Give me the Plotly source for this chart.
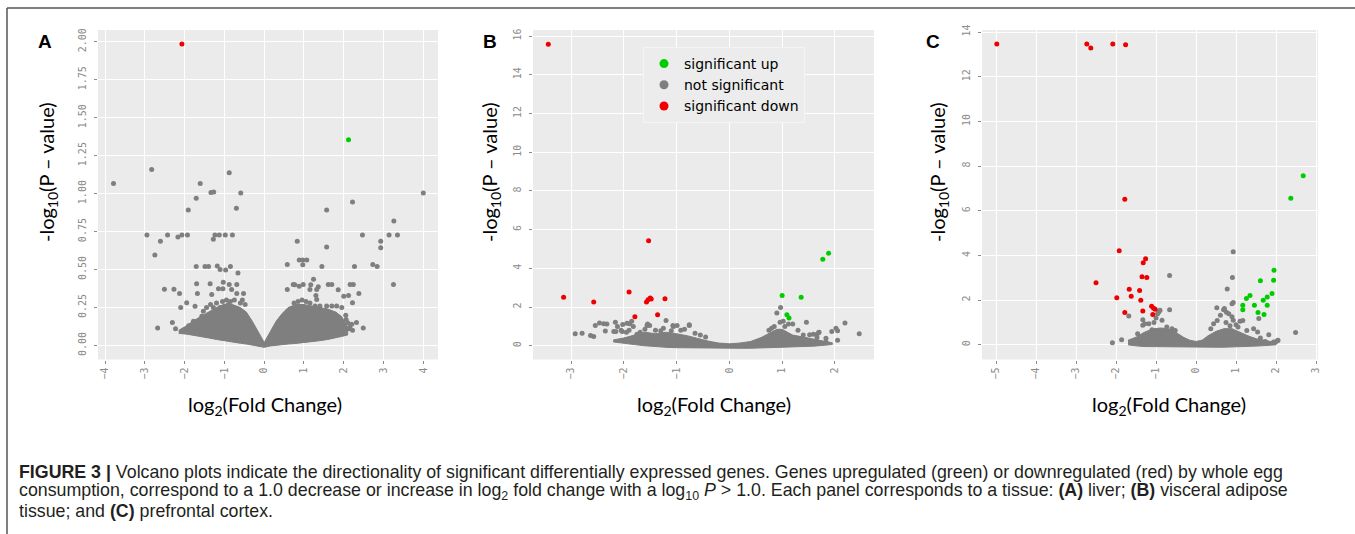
import plotly.graph_objects as go

W, H = 1355, 534

# ---------------- panel A (liver) ----------------
a_red_x = [-2.07]
a_red_y = [1.985]
a_green_x = [2.12]
a_green_y = [1.354]
a_gray_x = [-3.79, -2.83, -2.95, -2.75, -2.61, -2.43, -2.17, -2.07, -1.93, -1.91, -1.71, -1.61, -1.34, -1.27,
            -1.28, -1.24, -1.13, -0.98, -0.88, -0.80, -0.70, -0.59,
            -2.51, -2.27, -2.13, -2.10, -2.31, -2.23, -2.68, -1.95,
            -1.71, -1.49, -1.40, -1.18, -1.11, -0.97, -0.85, -0.66,
            -1.70, -1.36, -1.03, -0.88, -0.69, -1.04, -1.15, -0.82, -0.69, -0.52, -1.68, -1.32, -1.74, -1.45,
            -1.28, -1.11, -1.78, -1.78, -1.78, -1.78, -1.57, -1.53, -1.36, -1.62, -1.85, -1.90, -2.00,
            -1.20, -1.05, -0.95, -0.85, -0.75, -0.60, -0.55, -1.35, -0.48, -1.00, -0.90,
            0.83, 0.58, 0.88, 0.97, 1.07, 0.97, 1.24, 1.45, 1.57, 1.57, 2.22, 2.47, 2.27, 2.16, 2.24, 2.38,
            2.73, 2.84, 2.93, 2.93, 3.14, 3.26, 3.35, 3.25, 4.00, 2.49, 2.12, 2.22, 2.32, 2.22, 2.12, 2.00, 2.06,
            0.73, 0.98, 1.17, 1.36, 1.61, 1.70, 1.86, 1.15, 1.32, 0.77, 0.88, 0.58, 1.30, 1.32,
            1.57, 1.70, 1.40, 1.28, 1.82, 1.95, 0.85, 0.95, 1.05, 0.75, 1.15, 2.05, 2.10, 2.20, 2.15]
a_gray_y = [1.066, 1.158, 0.727, 0.596, 0.686, 0.727, 0.714, 0.727, 0.727, 0.892, 0.969, 1.066, 1.007, 1.011,
            0.699, 0.727, 0.727, 0.727, 1.138, 0.727, 0.903, 1.004,
            0.371, 0.371, 0.343, 0.251, 0.152, 0.110, 0.116, 0.281,
            0.521, 0.521, 0.521, 0.523, 0.500, 0.497, 0.521, 0.477,
            0.407, 0.407, 0.417, 0.402, 0.402, 0.374, 0.374, 0.369, 0.343, 0.343, 0.343, 0.336, 0.259, 0.250,
            0.250, 0.250, 0.160, 0.140, 0.120, 0.085, 0.193, 0.226, 0.180, 0.150, 0.110, 0.130, 0.105,
            0.280, 0.290, 0.300, 0.290, 0.300, 0.280, 0.300, 0.270, 0.270, 0.260, 0.270,
            0.686, 0.534, 0.563, 0.563, 0.563, 0.532, 0.437, 0.521, 0.892, 0.648, 0.945, 0.727, 0.521, 0.402,
            0.402, 0.343, 0.534, 0.521, 0.686, 0.644, 0.727, 0.820, 0.727, 0.402, 1.004, 0.116, 0.110, 0.100,
            0.152, 0.281, 0.330, 0.325, 0.171,
            0.402, 0.402, 0.400, 0.387, 0.402, 0.402, 0.367, 0.369, 0.369, 0.400, 0.390, 0.369, 0.330, 0.303,
            0.260, 0.260, 0.260, 0.260, 0.260, 0.250, 0.290, 0.300, 0.290, 0.280, 0.280, 0.200, 0.150, 0.140, 0.120]
# outline of the dense cloud of non-significant genes
a_core_x = [-2.15, -1.95, -1.8, -1.6, -1.4, -1.2, -1.0, -0.8, -0.6, -0.45, -0.3, -0.15, 0,
            0.15, 0.3, 0.45, 0.6, 0.8, 1.0, 1.2, 1.4, 1.6, 1.8, 1.95, 2.1]
a_core_top = [0.10, 0.13, 0.16, 0.19, 0.22, 0.25, 0.27, 0.27, 0.25, 0.22, 0.16, 0.09, 0.02,
              0.09, 0.16, 0.21, 0.25, 0.27, 0.27, 0.26, 0.25, 0.24, 0.22, 0.19, 0.12]
a_core_bottom = [0.08, 0.075, 0.07, 0.06, 0.05, 0.04, 0.03, 0.022, 0.015, 0.01, 0.004, -0.003, -0.012,
                 -0.003, 0.002, 0.006, 0.01, 0.014, 0.018, 0.025, 0.032, 0.04, 0.05, 0.06, 0.07]

# ---------------- panel B (visceral adipose) ----------------
b_red_x = [-3.43, -3.14, -2.57, -1.90, -1.53, -1.57, -1.54, -1.50, -1.48, -1.22, -1.79, -1.36]
b_red_y = [15.57, 2.50, 2.26, 2.78, 5.43, 2.26, 2.38, 2.47, 2.41, 2.43, 1.50, 1.60]
b_green_x = [1.00, 1.36, 1.77, 1.88, 1.09, 1.13]
b_green_y = [2.60, 2.50, 4.47, 4.78, 1.60, 1.43]
b_gray_x = [-2.92, -2.79, -2.63, -2.57, -2.54, -2.46, -2.38, -2.32, -2.35, -2.16, -2.12, -2.19, -2.02, -1.94,
            -1.89, -2.03, -1.95, -1.82, -1.85, -1.56, -1.51, -1.69, -1.20, -1.06, -0.99, -0.76, -1.10, -0.92,
            -1.40, -1.30, -1.55, -1.07, -0.76, -2.15, -2.05, -1.90, -1.75, -1.60, -1.25, -0.85, -0.65, -0.55, -0.45,
            0.97, 0.90, 1.46, 2.19, 2.46, 2.05, 1.94, 2.05, 1.69, 1.59, 1.52, 0.96, 1.02, 1.12, 1.20, 1.70,
            2.02, 1.83, 1.83, 1.66, 1.66, 0.85, 0.80, 0.75, 1.05, 1.30, 1.40]
b_gray_y = [0.62, 0.65, 0.53, 0.48, 1.05, 1.17, 1.14, 1.12, 0.76, 1.22, 0.99, 0.74, 1.10, 1.16,
            1.14, 0.73, 0.70, 0.99, 1.26, 1.05, 1.05, 0.70, 1.31, 1.00, 1.05, 1.05, 0.77, 0.80,
            0.80, 0.77, 1.12, 1.05, 1.09, 0.74, 0.80, 0.80, 0.60, 0.85, 0.90, 0.85, 0.65, 0.55, 0.45,
            1.98, 1.69, 1.22, 1.17, 0.62, 0.78, 0.74, 0.29, 0.69, 0.60, 0.57, 1.22, 1.26, 1.12, 1.12, 0.70,
            0.91, 0.39, 0.19, 0.60, 0.42, 1.00, 0.90, 0.80, 1.00, 0.80, 0.55]
b_core_x = [-2.2, -2.0, -1.8, -1.6, -1.4, -1.2, -1.0, -0.8, -0.6, -0.4, -0.2, 0, 0.2, 0.4, 0.6, 0.8,
            0.9, 1.0, 1.2, 1.4, 1.6, 1.8, 1.95]
b_core_top = [0.30, 0.40, 0.55, 0.70, 0.62, 0.70, 0.62, 0.52, 0.38, 0.24, 0.14, 0.10, 0.14, 0.22, 0.42, 0.70,
              0.85, 0.85, 0.55, 0.45, 0.35, 0.25, 0.15]
b_core_bottom = [0.20, 0.12, 0.06, 0.00, -0.05, -0.08, -0.10, -0.12, -0.13, -0.13, -0.13, -0.13, -0.13, -0.13,
                 -0.13, -0.12, -0.10, -0.08, -0.06, -0.04, -0.02, 0.02, 0.06]

# ---------------- panel C (prefrontal cortex) ----------------
c_red_x = [-4.98, -2.73, -2.63, -2.08, -1.76, -1.78, -1.92, -2.50, -1.98, -1.78, -1.67, -1.62, -1.41, -1.38,
           -1.35, -1.23, -1.32, -1.26, -1.33, -1.11, -1.06, -1.02, -1.08]
c_red_y = [13.46, 13.46, 13.28, 13.46, 13.43, 6.51, 4.21, 2.78, 2.10, 1.44, 2.49, 2.17, 2.43, 1.99,
           3.04, 3.01, 3.67, 3.85, 1.51, 1.72, 1.63, 1.59, 1.36]
c_green_x = [2.68, 2.37, 1.95, 1.94, 1.61, 1.90, 1.78, 1.68, 1.78, 1.35, 1.26, 1.17, 1.17, 1.46, 1.55, 1.70]
c_green_y = [7.56, 6.56, 3.34, 2.89, 2.87, 2.29, 2.14, 1.99, 1.77, 2.20, 2.07, 1.77, 1.57, 1.77, 1.44, 1.36]
c_gray_x = [0.93, 0.91, 0.78, 0.93, -0.66, -0.66, -1.68, -2.09, -1.86, 2.49, 1.57, 2.04, 1.99, 0.52, 0.69,
            -1.60, -1.52, -1.39, -1.31, -1.46, -1.41, -1.33, -1.18, -1.10, -0.96, -0.93, -0.90, -0.73, -0.60,
            -0.52, -1.33, -1.28, -1.00, -0.85, -1.05,
            0.71, 0.76, 0.82, 0.90, 0.90, 0.93, 0.61, 0.53, 0.44, 0.37, 1.10, 1.17,
            1.27, 1.44, 1.54, 1.61, 1.73, 1.82, 1.78, 1.94, 2.05, 1.30, 1.45, 1.00, 0.75, 0.85, 1.05]
c_gray_y = [4.16, 3.01, 2.50, 1.89, 3.10, 1.57, 1.29, 0.09, 0.22, 0.55, 1.17, 0.19, 0.12, 1.66, 1.57,
            0.08, 0.08, 0.08, 0.12, 0.49, 0.34, 0.87, 0.94, 0.67, 1.39, 1.47, 1.55, 0.79, 0.72,
            0.64, 1.12, 0.94, 1.20, 1.10, 1.00,
            1.62, 1.46, 1.39, 1.84, 1.25, 1.10, 1.32, 1.09, 0.94, 0.72, 1.05, 1.09,
            0.64, 0.72, 0.57, 0.30, 0.15, 0.45, 0.08, 0.12, 0.20, 0.15, 0.20, 0.90, 1.00, 0.85, 0.80]
c_core_x = [-1.7, -1.5, -1.3, -1.1, -0.9, -0.7, -0.5, -0.3, -0.15, 0, 0.15, 0.3, 0.5, 0.7, 0.9, 1.1, 1.3,
            1.5, 1.7, 1.9, 2.0]
c_core_top = [0.20, 0.34, 0.55, 0.70, 0.75, 0.72, 0.55, 0.32, 0.20, 0.15, 0.20, 0.40, 0.60, 0.72, 0.72, 0.55,
              0.40, 0.27, 0.20, 0.15, 0.10]
c_core_bottom = [0.00, -0.05, -0.08, -0.10, -0.10, -0.11, -0.11, -0.11, -0.11, -0.11, -0.11, -0.11, -0.11,
                 -0.11, -0.10, -0.10, -0.08, -0.06, -0.04, -0.02, 0.00]

legend_labels = ["significant up", "not significant", "significant down"]

# ---------------- layout geometry (pixels) ----------------
panels = [
    dict(px=(98, 438), xr=[-4.18, 4.37], yr=[-0.092, 2.077], dy=0.25, fmt=".2f", letter="A", lx=45,
         ytx=47, xtx=265),
    dict(px=(533, 874), xr=[-3.72, 2.74], yr=[-0.71, 16.31], dy=2, fmt="d", letter="B", lx=490,
         ytx=490, xtx=714),
    dict(px=(982, 1318), xr=[-5.35, 3.05], yr=[-0.66, 14.09], dy=2, fmt="d", letter="C", lx=933,
         ytx=938, xtx=1169),
]
PY0, PY1 = 30, 359.5

GRAY = "#7f7f7f"
RED = "#ee0000"
GREEN = "#00cd00"

data = [
    (a_core_x, a_core_top, a_core_bottom, a_gray_x, a_gray_y, a_red_x, a_red_y, a_green_x, a_green_y),
    (b_core_x, b_core_top, b_core_bottom, b_gray_x, b_gray_y, b_red_x, b_red_y, b_green_x, b_green_y),
    (c_core_x, c_core_top, c_core_bottom, c_gray_x, c_gray_y, c_red_x, c_red_y, c_green_x, c_green_y),
]

fig = go.Figure()
layout = dict(width=W, height=H, margin=dict(l=0, r=0, t=0, b=0), paper_bgcolor="white",
              plot_bgcolor="#ebebeb", showlegend=True)

tick_font = dict(family="DejaVu Sans Mono", size=10, color="#8a8a8a")
annotations = []
shapes = []

for i, (p, d) in enumerate(zip(panels, data)):
    n = "" if i == 0 else str(i + 1)
    xa, ya = "x" + n, "y" + n
    core_x, core_top, core_bot, gx, gy, rx, ry, gnx, gny = d

    # dense cloud
    fig.add_trace(go.Scatter(x=core_x + core_x[::-1], y=core_top + core_bot[::-1], fill="toself",
                             mode="lines", line=dict(color=GRAY, width=1), fillcolor=GRAY,
                             showlegend=False, hoverinfo="skip", xaxis=xa, yaxis=ya))
    fig.add_trace(go.Scatter(x=gx, y=gy, mode="markers", marker=dict(color=GRAY, size=5),
                             showlegend=False, xaxis=xa, yaxis=ya))
    fig.add_trace(go.Scatter(x=rx, y=ry, mode="markers", marker=dict(color=RED, size=5),
                             showlegend=False, xaxis=xa, yaxis=ya))
    fig.add_trace(go.Scatter(x=gnx, y=gny, mode="markers", marker=dict(color=GREEN, size=5),
                             showlegend=False, xaxis=xa, yaxis=ya))

    x0, x1 = p["px"]
    axis_common = dict(showgrid=True, gridcolor="white", gridwidth=1.3, zeroline=False, showline=False,
                       ticks="outside", ticklen=3, tickwidth=1, tickcolor="#8a8a8a", tickfont=tick_font,
                       tickangle=-90, automargin=False)
    layout["xaxis" + n] = dict(domain=[x0 / W, x1 / W], range=p["xr"], anchor=ya, dtick=1, tick0=0,
                               **axis_common)
    layout["yaxis" + n] = dict(domain=[1 - PY1 / H, 1 - PY0 / H], range=p["yr"], anchor=xa, dtick=p["dy"],
                               tick0=0, tickformat=p["fmt"], ticklabelstandoff=4, **axis_common)

    annotations.append(dict(text="<b>%s</b>" % p["letter"], x=p["lx"] / W, y=1 - 42 / H, xref="paper",
                            yref="paper", xanchor="center", yanchor="middle", showarrow=False,
                            font=dict(family="Liberation Sans", size=19, color="black")))
    annotations.append(dict(text="-log<sub>10</sub>(P \u2013 value)", textangle=-90, x=p["ytx"] / W,
                            y=1 - 172 / H, xref="paper", yref="paper", xanchor="center", yanchor="middle",
                            showarrow=False, font=dict(family="Lato", size=20, color="black")))
    annotations.append(dict(text="log<sub>2</sub>(Fold Change)", x=p["xtx"] / W, y=1 - 405 / H,
                            xref="paper", yref="paper", xanchor="center", yanchor="middle", showarrow=False,
                            font=dict(family="Lato", size=20, color="black")))

# legend (panel B)
for lab, col in zip(legend_labels, [GREEN, GRAY, RED]):
    fig.add_trace(go.Scatter(x=[None], y=[None], mode="markers", name=lab, legendgroup=lab,
                             marker=dict(color=col, size=9), xaxis="x2", yaxis="y2"))

layout["legend"] = dict(x=643 / W, y=1 - 47 / H, xanchor="left", yanchor="top", bgcolor="#ececec",
                        bordercolor="#f4f4f4", borderwidth=1, tracegroupgap=0,
                        font=dict(family="DejaVu Sans", size=14, color="black"))

# caption
caption = [
    "<b>FIGURE 3 |</b> Volcano plots indicate the directionality of significant differentially expressed "
    "genes. Genes upregulated (green) or downregulated (red) by whole egg",
    "consumption, correspond to a 1.0 decrease or increase in log<sub>2</sub> fold change with a "
    "log<sub>10</sub> <i>P</i> &gt; 1.0. Each panel corresponds to a tissue: <b>(A)</b> liver; "
    "<b>(B)</b> visceral adipose",
    "tissue; and <b>(C)</b> prefrontal cortex.",
]
for k, line in enumerate(caption):
    annotations.append(dict(text=line, x=17 / W, y=1 - (472 + 19.5 * k) / H, xref="paper", yref="paper",
                            xanchor="left", yanchor="middle", showarrow=False,
                            font=dict(family="Liberation Sans", size=17.8, color="#231f20")))

# frame
shapes.append(dict(type="line", xref="paper", yref="paper", x0=7 / W, x1=1, y0=1 - 8 / H, y1=1 - 8 / H,
                   line=dict(color="#555555", width=1.5)))
shapes.append(dict(type="line", xref="paper", yref="paper", x0=7 / W, x1=7 / W, y0=1 - 8 / H, y1=0,
                   line=dict(color="#555555", width=1.5)))

layout["annotations"] = annotations
layout["shapes"] = shapes
fig.update_layout(**layout)
fig.write_html("out.html", config={"displayModeBar": False},
               post_script="document.body.style.margin='0px';")
